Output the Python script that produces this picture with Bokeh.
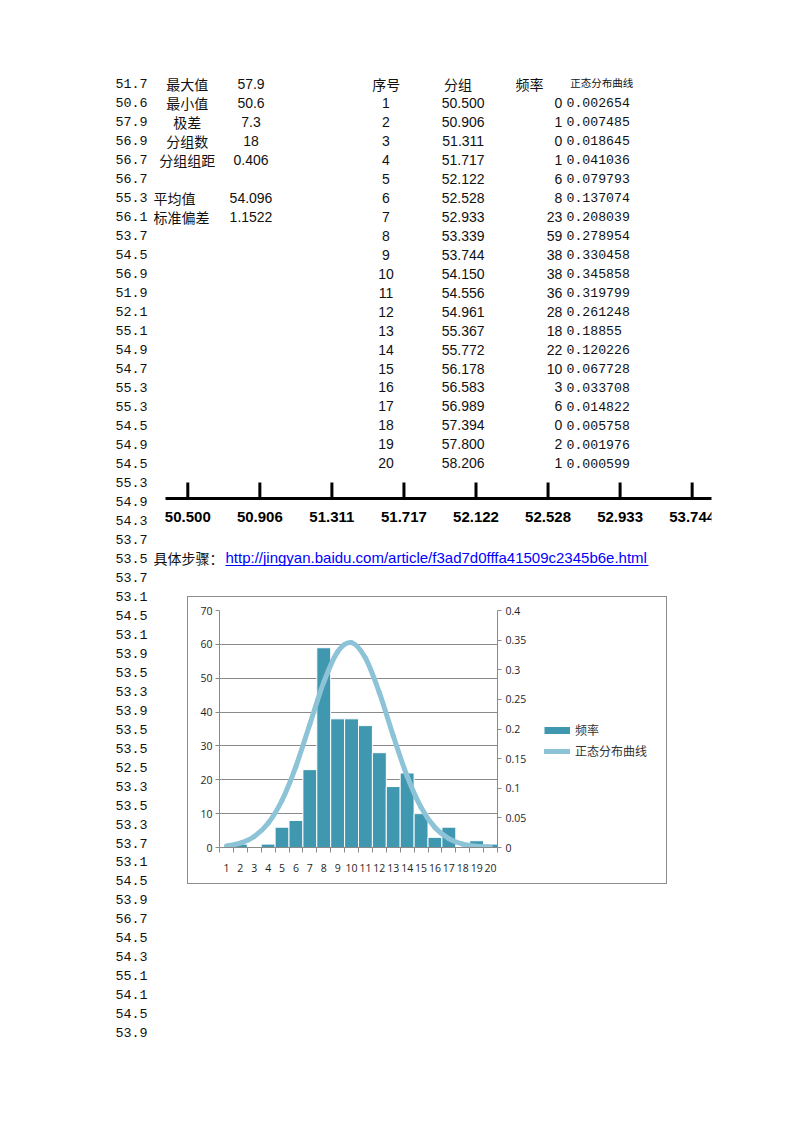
import numpy as np
from bokeh.plotting import figure
from bokeh.models import (Range1d, LinearAxis, FixedTicker, Legend, LegendItem,
                          ColumnDataSource, Spacer, CustomJSTickFormatter)
from bokeh.layouts import column, row
from bokeh.core.properties import value
from bokeh.embed import file_html
from bokeh.resources import INLINE

# ---------------- data ----------------
raw_values = [51.7, 50.6, 57.9, 56.9, 56.7, 56.7, 55.3, 56.1, 53.7, 54.5, 56.9, 51.9,
              52.1, 55.1, 54.9, 54.7, 55.3, 55.3, 54.5, 54.9, 54.5, 55.3, 54.9, 54.3,
              53.7, 53.5, 53.7, 53.1, 54.5, 53.1, 53.9, 53.5, 53.3, 53.9, 53.5, 53.5,
              52.5, 53.3, 53.5, 53.3, 53.7, 53.1, 54.5, 53.9, 56.7, 54.5, 54.3, 55.1,
              54.1, 54.5, 53.9]
stat_labels = ["最大值", "最小值", "极差", "分组数", "分组组距", "", "平均值", "标准偏差"]
stat_values = ["57.9", "50.6", "7.3", "18", "0.406", "", "54.096", "1.1522"]
table_headers = ["序号", "分组", "频率", "正态分布曲线"]
seq = list(range(1, 21))
groups = ["50.500", "50.906", "51.311", "51.717", "52.122", "52.528", "52.933", "53.339",
          "53.744", "54.150", "54.556", "54.961", "55.367", "55.772", "56.178", "56.583",
          "56.989", "57.394", "57.800", "58.206"]
freq = [0, 1, 0, 1, 6, 8, 23, 59, 38, 38, 36, 28, 18, 22, 10, 3, 6, 0, 2, 1]
normal = [0.002654, 0.007485, 0.018645, 0.041036, 0.079793, 0.137074, 0.208039, 0.278954,
          0.330458, 0.345858, 0.319799, 0.261248, 0.18855, 0.120226, 0.067728, 0.033708,
          0.014822, 0.005758, 0.001976, 0.000599]
numline_labels = ["50.500", "50.906", "51.311", "51.717", "52.122", "52.528", "52.933", "53.744"]
steps_label = "具体步骤："
steps_url = "http://jingyan.baidu.com/article/f3ad7d0fffa41509c2345b6e.html"
legend_labels = ["频率", "正态分布曲线"]
left_ticks = [0, 10, 20, 30, 40, 50, 60, 70]
right_ticks = [0, 0.05, 0.1, 0.15, 0.2, 0.25, 0.3, 0.35, 0.4]

# ---------------- styles ----------------
MONO = "Liberation Mono"
CJK = "Noto Sans CJK SC"
SANS = "Liberation Sans"
INK = "#111111"
BAR = "#3f97b0"
CURVE = "#8cc3d6"
GRID = "#8a8a8a"
BOX = "#8c8c8c"

Y0, DY = 83.3, 18.98


def row_y(i):
    return Y0 + DY * i


def page_fig(x0, x1, y0, y1):
    f = figure(width=x1 - x0, height=y1 - y0, x_range=Range1d(x0, x1), y_range=Range1d(y1, y0),
               toolbar_location=None, output_backend="svg", x_axis_type=None, y_axis_type=None,
               min_border=0)
    f.outline_line_color = None
    return f


def add_text(f, xs, ys, texts, font, size, align="left", color=INK, style="normal"):
    if not texts:
        return
    src = ColumnDataSource(dict(x=xs, y=ys, t=texts))
    f.text(x="x", y="y", text="t", source=src, text_font=value(font),
           text_font_size=value(size), text_align=align, text_baseline="middle",
           text_color=color, text_font_style=style)


TOP_END, MID_END, BOT_END = 587, 891, 1110
top = page_fig(0, 778, 0, TOP_END)
mid = page_fig(0, 187, TOP_END, MID_END)
bot = page_fig(0, 778, MID_END, BOT_END)

# left column of raw values
buckets = {id(top): ([], [], []), id(mid): ([], [], []), id(bot): ([], [], [])}
for i, v in enumerate(raw_values):
    y = row_y(i)
    f = top if y < TOP_END else (mid if y < MID_END else bot)
    b = buckets[id(f)]
    b[0].append(115)
    b[1].append(y)
    b[2].append(f"{v:.1f}")
for f in (top, mid, bot):
    b = buckets[id(f)]
    add_text(f, b[0], b[1], b[2], MONO, "13.4px")

# statistics block
c_l, c_y, c_t = [], [], []
l_l, l_y, l_t = [], [], []
for i, lab in enumerate(stat_labels):
    if not lab:
        continue
    if i < 5:
        c_l.append(186.7); c_y.append(row_y(i)); c_t.append(lab)
    else:
        l_l.append(153); l_y.append(row_y(i)); l_t.append(lab)
add_text(top, c_l, c_y, c_t, CJK, "14px", align="center")
add_text(top, l_l, l_y, l_t, CJK, "14px", align="left")
sv = [(i, s) for i, s in enumerate(stat_values) if s]
add_text(top, [250.5] * len(sv), [row_y(i) for i, _ in sv], [s for _, s in sv], SANS, "14px",
         align="center")

# frequency table
add_text(top, [385.8, 457.5, 529], [row_y(0)] * 3, table_headers[:3], CJK, "14px", align="center")
add_text(top, [601.3], [row_y(0) - 1.5], table_headers[3:], CJK, "10.5px", align="center")
ys = [row_y(i) for i in seq]
add_text(top, [385.5] * 20, ys, [str(s) for s in seq], SANS, "14px", align="center")
add_text(top, [462.7] * 20, ys, groups, SANS, "14px", align="center")
add_text(top, [561.7] * 20, ys, [str(v) for v in freq], SANS, "14px", align="right")
add_text(top, [566.0] * 20, ys, [str(v) for v in normal], MONO, "13.2px", align="left")

# number line drawing
tick_x = [187.3 + 72.05 * i for i in range(len(numline_labels))]
top.segment(x0=[165], y0=[498], x1=[711], y1=[498], line_color="black", line_width=3)
top.segment(x0=tick_x, y0=[482] * len(tick_x), x1=tick_x, y1=[498] * len(tick_x),
            line_color="black", line_width=3)
add_text(top, tick_x, [516.5] * len(tick_x), numline_labels, SANS, "15px", align="center",
         color="#000000", style="bold")
top.quad(left=[711], right=[760], top=[505], bottom=[530], fill_color="white", line_color=None)

# steps link row
add_text(top, [153], [row_y(25)], [steps_label], CJK, "14px")
add_text(top, [225], [row_y(25) - 0.5], [steps_url], SANS, "15px", color="#0000ff")
top.segment(x0=[225], y0=[565], x1=[648], y1=[565], line_color="#0000ff", line_width=1)

# ---------------- chart ----------------
CW, CH = 478, 286
PW = 349               # width of the plotting part; the rest holds the legend
chart = figure(width=PW, height=CH, x_range=Range1d(0.5, 20.5), y_range=Range1d(0, 70),
               toolbar_location=None, output_backend="svg",
               min_border_left=31, min_border_right=40, min_border_top=13, min_border_bottom=36)
chart.outline_line_color = None
chart.extra_y_ranges = {"curve": Range1d(0, 0.4)}

src = ColumnDataSource(dict(seq=seq, freq=freq, normal=normal))
bars = chart.vbar(x="seq", top="freq", width=1.0, source=src, fill_color=BAR,
                  line_color="white", line_width=1)

# smooth curve through the normal-curve points (Catmull-Rom as cubic Bezier segments)
xs = np.array(seq, dtype=float)
yv = np.array(normal, dtype=float)
xp = np.concatenate([[xs[0]], xs, [xs[-1]]])
yp = np.concatenate([[yv[0]], yv, [yv[-1]]])
n = len(xs)
bz = dict(x0=[], y0=[], x1=[], y1=[], cx0=[], cy0=[], cx1=[], cy1=[])
for i in range(n - 1):
    p0x, p0y = xp[i], yp[i]
    p1x, p1y = xp[i + 1], yp[i + 1]
    p2x, p2y = xp[i + 2], yp[i + 2]
    p3x, p3y = xp[i + 3], yp[i + 3]
    bz["x0"].append(p1x); bz["y0"].append(p1y)
    bz["x1"].append(p2x); bz["y1"].append(p2y)
    bz["cx0"].append(p1x + (p2x - p0x) / 6); bz["cy0"].append(p1y + (p2y - p0y) / 6)
    bz["cx1"].append(p2x - (p3x - p1x) / 6); bz["cy1"].append(p2y - (p3y - p1y) / 6)
curve = chart.bezier(x0="x0", y0="y0", x1="x1", y1="y1", cx0="cx0", cy0="cy0", cx1="cx1",
                     cy1="cy1", source=ColumnDataSource(bz), y_range_name="curve",
                     line_color=CURVE, line_width=5, line_cap="round")

AX_FONT = "Open Sans"
AX_SIZE = "10.5px"
AX_COLOR = "#1e1e1e"

chart.xgrid.visible = False
chart.ygrid.ticker = FixedTicker(ticks=left_ticks)
chart.ygrid.grid_line_color = GRID

xa = chart.xaxis[0]
xa.ticker = FixedTicker(ticks=seq, minor_ticks=[0.5 + i for i in range(21)])
xa.major_tick_line_color = None
xa.minor_tick_in = 0
xa.minor_tick_out = 5
xa.minor_tick_line_color = GRID
xa.axis_line_color = GRID
xa.major_label_standoff = 10
xa.major_label_text_font = AX_FONT
xa.major_label_text_font_size = AX_SIZE
xa.major_label_text_color = AX_COLOR

ya = chart.yaxis[0]
ya.ticker = FixedTicker(ticks=left_ticks)
ya.minor_tick_line_color = None
ya.major_tick_in = 0
ya.major_tick_out = 4
ya.major_tick_line_color = GRID
ya.axis_line_color = GRID
ya.major_label_standoff = 3
ya.major_label_text_font = AX_FONT
ya.major_label_text_font_size = AX_SIZE
ya.major_label_text_color = AX_COLOR

ra = LinearAxis(y_range_name="curve", ticker=FixedTicker(ticks=right_ticks),
                formatter=CustomJSTickFormatter(code="return String(Math.round(tick*100)/100);"))
ra.minor_tick_line_color = None
ra.major_tick_in = 0
ra.major_tick_out = 4
ra.major_tick_line_color = GRID
ra.axis_line_color = GRID
ra.major_label_standoff = 4
ra.major_label_text_font = AX_FONT
ra.major_label_text_font_size = AX_SIZE
ra.major_label_text_color = AX_COLOR
chart.add_layout(ra, "right")

# legend panel (swatches styled like the chart's series; swatch glyphs sit outside the view)
leg_fig = figure(width=CW - PW, height=CH, x_range=Range1d(0, 1), y_range=Range1d(0, 1),
                 toolbar_location=None, output_backend="svg", x_axis_type=None,
                 y_axis_type=None, min_border=0)
leg_fig.outline_line_color = None
sw_bar = leg_fig.line(x=[5, 6], y=[5, 5], line_color=BAR, line_width=7, line_cap="butt")
sw_line = leg_fig.line(x=[5, 6], y=[5, 5], line_color=CURVE, line_width=5, line_cap="round")
legend = Legend(items=[LegendItem(label=legend_labels[0], renderers=[sw_bar]),
                       LegendItem(label=legend_labels[1], renderers=[sw_line])],
                location=(7, 88), padding=0, margin=0, border_line_color=None,
                background_fill_alpha=0, glyph_width=26, glyph_height=8, label_height=14,
                spacing=4, label_standoff=5, label_text_font=CJK,
                label_text_font_size="12px", label_text_color="#333333")
leg_fig.add_layout(legend)


def edge(w, h):
    return Spacer(width=w, height=h, styles={"background-color": BOX})


chart_box = row(edge(1, CH + 2),
                column(edge(CW, 1), row(chart, leg_fig), edge(CW, 1)),
                edge(1, CH + 2))

layout = column(top,
                row(mid, column(Spacer(width=CW + 2, height=9), chart_box,
                                Spacer(width=CW + 2, height=MID_END - TOP_END - 9 - CH - 2))),
                bot)

open("out.html", "w").write(file_html(layout, INLINE))
